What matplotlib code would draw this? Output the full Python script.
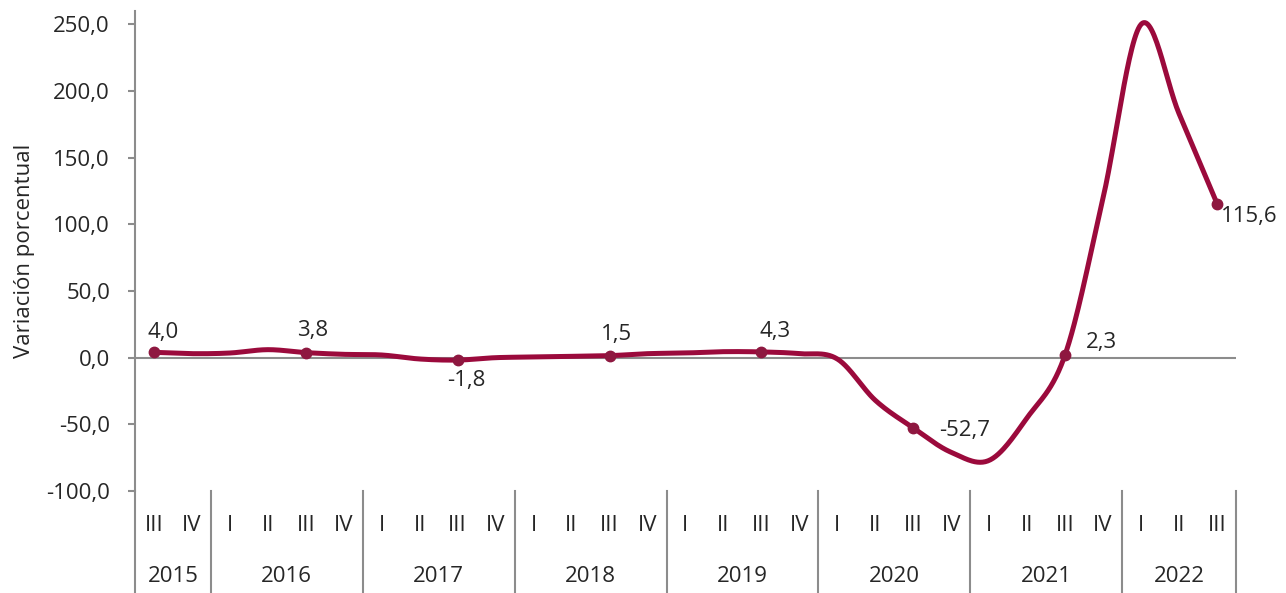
import numpy as np
import matplotlib.pyplot as plt
from matplotlib.lines import Line2D
import matplotlib.transforms as mtransforms

plt.rcParams['font.family'] = ['Open Sans', 'DejaVu Sans']

quarters = ['III', 'IV'] + ['I', 'II', 'III', 'IV'] * 6 + ['I', 'II', 'III']
years = ['2015', '2016', '2017', '2018', '2019', '2020', '2021', '2022']
year_counts = [2, 4, 4, 4, 4, 4, 4, 3]
values = [4.0, 3.0, 3.5, 6.0, 3.8, 2.5, 2.0, -1.0, -1.8, 0.0,
          0.5, 1.0, 1.5, 3.0, 3.5, 4.5, 4.3, 3.0, -1.0, -32.0,
          -52.7, -71.0, -77.0, -45.0, 2.3, 120.0, 250.0, 183.0, 115.6]
labeled = [0, 4, 8, 12, 16, 20, 24, 28]
label_text = ['4,0', '3,8', '-1,8', '1,5', '4,3', '-52,7', '2,3', '115,6']
label_offsets = [(6.5, 14), (5, 16), (6, -15), (5, 15), (10, 15), (37, -2), (26, 9), (23, -9)]

line_color = '#9B0A3C'
marker_color = '#8E1840'
grey = '#8C8C8C'
text_color = '#262626'
fs = 16


def excel_smooth(y, n=30):
    # catmull-rom style bezier, like Excel's smoothed line
    x = np.arange(len(y), dtype=float)
    pts = np.column_stack([x, y])
    p = np.vstack([pts[0], pts, pts[-1]])
    out = []
    t = np.linspace(0, 1, n)[:, None]
    for i in range(1, len(p) - 2):
        p0, p1, p2, p3 = p[i - 1], p[i], p[i + 1], p[i + 2]
        c1 = p1 + (p2 - p0) / 6
        c2 = p2 - (p3 - p1) / 6
        seg = ((1 - t) ** 3) * p1 + 3 * ((1 - t) ** 2) * t * c1 + 3 * (1 - t) * t ** 2 * c2 + t ** 3 * p2
        out.append(seg)
    out = np.vstack(out)
    return out[:, 0], out[:, 1]


fig = plt.figure(figsize=(12.86, 5.93), dpi=100)
ax = fig.add_axes([135 / 1286, 102 / 593, 1101 / 1286, 480 / 593])

sx, sy = excel_smooth(np.array(values))
ax.axhline(0, color=grey, lw=1.5, zorder=1)
ax.plot(sx, sy, color=line_color, lw=3.6, solid_capstyle='round', zorder=3)
ax.plot(labeled, [values[i] for i in labeled], 'o', color=marker_color, ms=7.5, zorder=4)

for i, txt, off in zip(labeled, label_text, label_offsets):
    ax.annotate(txt, (i, values[i]), xytext=off, textcoords='offset points',
                ha='center', va='center', fontsize=fs, color=text_color)

ax.set_xlim(-0.5, len(values) - 0.5)
ax.set_ylim(-100, 260)
ax.set_yticks(np.arange(-100, 251, 50))
ax.set_yticklabels([f'{v:.1f}'.replace('.', ',') for v in np.arange(-100, 251, 50)])
ax.tick_params(axis='y', colors=grey, length=5, width=1.5, labelsize=fs, labelcolor=text_color, pad=13)
ax.set_ylabel('Variación porcentual', fontsize=fs, color=text_color, labelpad=8)

ax.set_xticks(range(len(values)))
ax.set_xticklabels(quarters)
ax.tick_params(axis='x', length=0, labelsize=fs, labelcolor=text_color, pad=17)

for s in ['top', 'right', 'bottom']:
    ax.spines[s].set_visible(False)
ax.spines['left'].set_color(grey)
ax.spines['left'].set_linewidth(1.5)
ax.spines['left'].set_bounds(-100, 260)

trans = mtransforms.blended_transform_factory(ax.transData, ax.transAxes)
bottom = -102 / 480
edges = np.cumsum([0] + year_counts) - 0.5
for e in edges:
    ax.add_line(Line2D([e, e], [0, bottom], transform=trans, color=grey, lw=1.5, clip_on=False))
for k, yr in enumerate(years):
    ax.text((edges[k] + edges[k + 1]) / 2, -85 / 480, yr, transform=trans,
            ha='center', va='center', fontsize=fs, color=text_color)

fig.savefig('out.png', dpi=100)
